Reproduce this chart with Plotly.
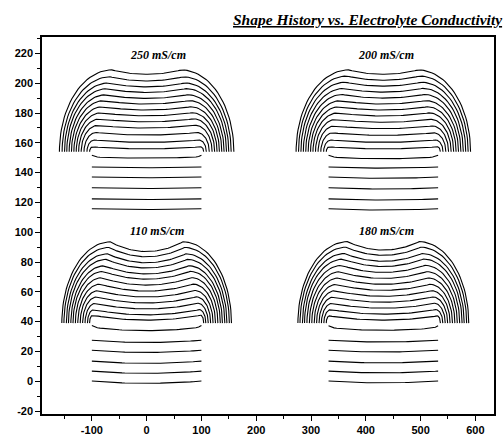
import numpy as np
import plotly.graph_objects as go

# ---- data ----
panel_labels = ["250 mS/cm", "200 mS/cm", "110 mS/cm", "180 mS/cm"]
panel_dx = [0, 432, 0, 432]          # x offset of each panel (data units)
panel_dy = [115, 115, 0, 0]          # y offset of each panel (data units)
label_x = [20, 437, 18, 437]
label_y = [219, 219, 101, 101]

mask_half_width = 100                # opening half width
mask_top = 39                        # level where the domes start spreading

# flat profiles below the mask top (relative heights)
flat_levels = [
    [0.7, 7.4, 14.8, 22.0, 28.8],
    [0.7, 7.4, 14.8, 22.0, 28.8],
    [0.1, 6.8, 13.5, 20.8, 27.5],
    [0.1, 6.8, 13.5, 20.8, 27.5],
]
curved_level = [35.5, 35.5, 36.2, 36.0]

# centre heights of the domes (relative)
dome_centres = [
    [40.9, 45.3, 50.2, 54.9, 59.1, 63.1, 67.0, 71.0, 74.8, 78.8, 82.5, 86.5, 91.0],
    [40.9, 45.3, 50.0, 54.5, 58.8, 63.0, 67.0, 71.0, 75.0, 79.0, 83.0, 87.0, 91.0],
    [41.0, 44.5, 48.5, 52.5, 56.5, 60.5, 64.5, 68.5, 72.0, 76.0, 79.5, 83.5, 87.0],
    [41.0, 45.0, 49.0, 53.0, 57.0, 61.0, 65.0, 69.0, 73.0, 77.0, 80.5, 84.5, 88.0],
]
dome_dip = [3.0, 3.0, 7.0, 6.0]      # shoulder height above the centre
flat_dip = [0.5, 0.8, 1.5, 1.2]

x_ticks = [-100, 0, 100, 200, 300, 400, 500, 600]
x_tick_text = ["-100", "0", "100", "200", "300", "400", "500", "600"]
y_ticks = [-20, 0, 20, 40, 60, 80, 100, 120, 140, 160, 180, 200, 220]
y_tick_text = ["-20", "0", "20", "40", "60", "80", "100", "120", "140",
               "160", "180", "200", "220"]

# ---- build the profiles ----
def panel_xy(p):
    xs_all, ys_all = [], []
    dx, dy = panel_dx[p], panel_dy[p]
    xl = np.linspace(-mask_half_width, mask_half_width, 41)
    for lev in flat_levels[p]:
        y = lev - flat_dip[p] * (1 - (xl / mask_half_width) ** 2)
        xs_all += list(xl + dx) + [None]
        ys_all += list(y + dy) + [None]
    # curved profile touching mask walls
    lev = curved_level[p]
    y = lev - flat_dip[p] * 1.5 * (1 - (xl / mask_half_width) ** 2) + 1.2 * (np.abs(xl) / mask_half_width) ** 20
    xs_all += list(xl + dx) + [None]
    ys_all += list(y + dy) + [None]
    hmax = dome_centres[p][-1] + dome_dip[p] - mask_top
    for hc in dome_centres[p]:
        H = hc - mask_top
        dip = dome_dip[p] * (0.45 + 0.55 * H / hmax)
        top = hc + dip
        ry = top - mask_top
        a = 0.7 * H
        xs = mask_half_width - a
        x_out = mask_half_width + 1.1 * H + 2
        rx = x_out - xs
        t = np.linspace(0, np.pi / 2, 30)
        xr = xs + rx * np.cos(t)
        yr = mask_top + ry * np.sin(t)
        xt = np.linspace(xs, -xs, 40)
        yt = hc + dip * (xt / xs) ** 2
        xl2 = -xs - rx * np.sin(t)
        yl2 = mask_top + ry * np.cos(t)
        X = np.concatenate([xr, xt[1:], xl2[1:]])
        Y = np.concatenate([yr, yt[1:], yl2[1:]])
        xs_all += list(X + dx) + [None]
        ys_all += list(Y + dy) + [None]
    return xs_all, ys_all

fig = go.Figure()
for p in range(4):
    X, Y = panel_xy(p)
    fig.add_trace(go.Scatter(x=X, y=Y, mode="lines",
                             line=dict(color="black", width=1.1),
                             hoverinfo="skip", showlegend=False))
    fig.add_annotation(x=label_x[p], y=label_y[p], text=panel_labels[p],
                       showarrow=False, xanchor="center", yanchor="middle",
                       font=dict(family="Liberation Serif", size=12,
                                 color="black", weight="bold", style="italic"))

fig.add_annotation(x=0.72, y=1.047, xref="paper", yref="paper",
                   text="Shape History vs. Electrolyte Conductivity",
                   showarrow=False, xanchor="center", yanchor="middle",
                   font=dict(family="Liberation Serif", size=15.5, color="black",
                             weight="bold", style="italic", lineposition="under"))

axis_common = dict(showgrid=False, zeroline=False, showline=True,
                   linecolor="black", linewidth=1.5, mirror=True,
                   ticks="outside", ticklen=5, tickwidth=1.3, tickcolor="black",
                   tickfont=dict(family="Liberation Sans", size=11, color="black",
                                 weight="bold"))
fig.update_xaxes(range=[-191, 634], tickvals=x_ticks, ticktext=x_tick_text,
                 minor=dict(dtick=50, ticks="outside", ticklen=3, tickwidth=1,
                            tickcolor="black"),
                 **axis_common)
fig.update_yaxes(range=[-22, 231], tickvals=y_ticks, ticktext=y_tick_text,
                 minor=dict(dtick=10, ticks="outside", ticklen=3, tickwidth=1,
                            tickcolor="black"),
                 **axis_common)
fig.update_layout(width=504, height=444, margin=dict(l=42, r=8, t=37, b=28),
                  paper_bgcolor="white", plot_bgcolor="white")
fig.write_html("out.html")
